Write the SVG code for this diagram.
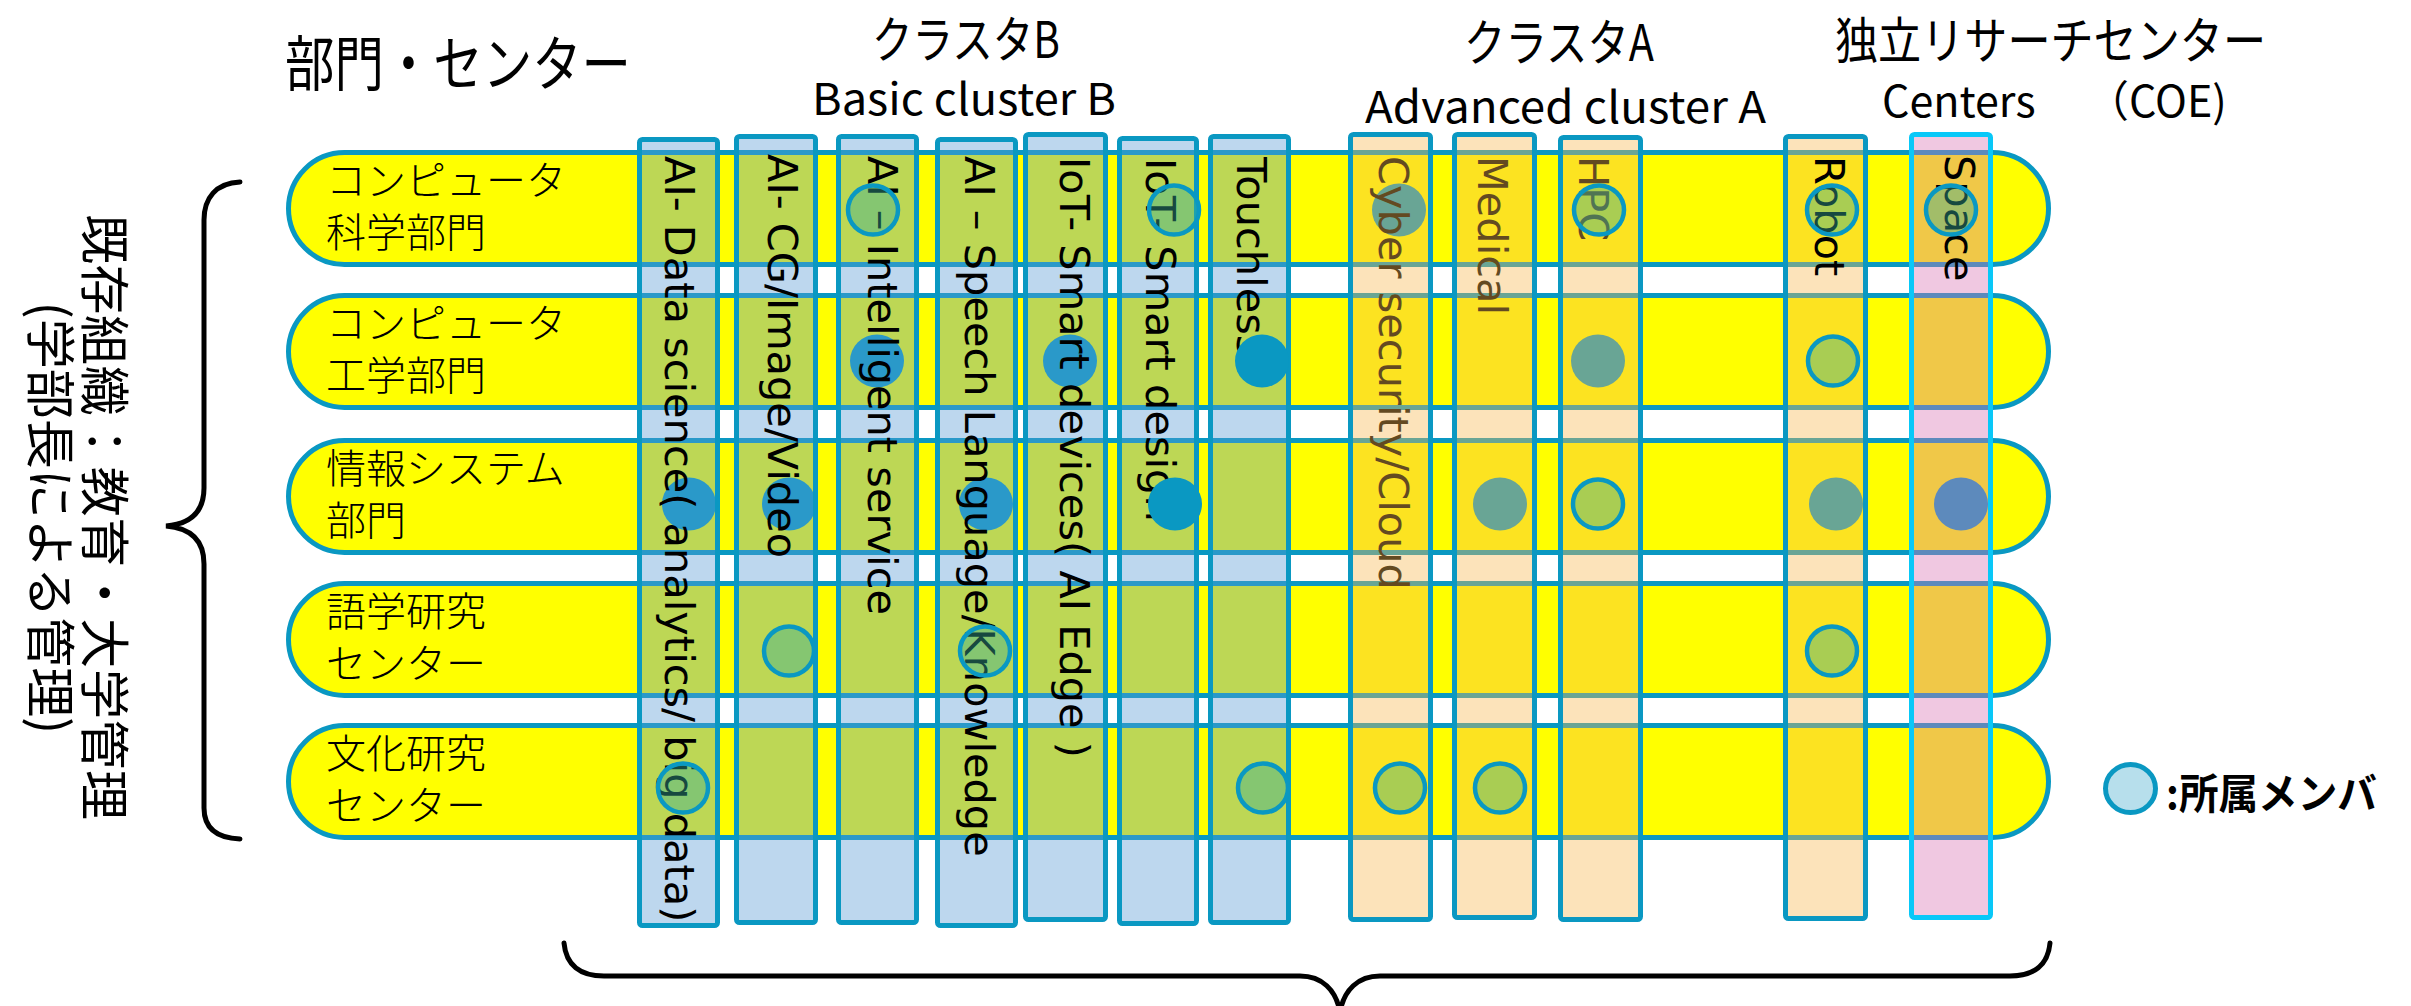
<svg xmlns="http://www.w3.org/2000/svg" width="2411" height="1006" viewBox="0 0 2411 1006">
<defs>
<style>
.row{fill:#FFFF00;stroke:#0A98C2;stroke-width:5}
.lbl{font-family:"Noto Sans CJK JP","Noto Sans CJK SC",sans-serif;font-size:40px;font-weight:300;fill:#000}
.bar{stroke:#0A98C2;stroke-width:5}
.blue{fill:#5B9BD5;fill-opacity:.4}
.peach{fill:#F7BA52;fill-opacity:.4}
.pink{fill:#D975B4;fill-opacity:.4;stroke:#08C8F8}
.bt{font-family:"DejaVu Sans",sans-serif;font-size:41.5px;fill:#000}
.dot{fill:#0A98C2}
.mem{fill:#38AE98;fill-opacity:.42;stroke:#0A98C2;stroke-width:4.5}
.head{font-family:"Noto Sans CJK JP","Noto Sans CJK SC",sans-serif;fill:#000}
.brace{fill:none;stroke:#000;stroke-width:5;stroke-linecap:round}
</style>
</defs>
<rect width="2411" height="1006" fill="#FFFFFF"/>

<g id="headings" class="head">
<text x="285" y="86" font-size="60" textLength="346" lengthAdjust="spacingAndGlyphs">部門・センター</text>
<text x="872" y="58" font-size="50" textLength="188" lengthAdjust="spacingAndGlyphs">クラスタB</text>
<text x="812" y="115" font-size="44" textLength="304" lengthAdjust="spacingAndGlyphs">Basic cluster B</text>
<text x="1464" y="61" font-size="50" textLength="190" lengthAdjust="spacingAndGlyphs">クラスタA</text>
<text x="1365" y="123" font-size="44" textLength="401" lengthAdjust="spacingAndGlyphs">Advanced cluster A</text>
<text x="1835" y="59" font-size="50" textLength="431" lengthAdjust="spacingAndGlyphs">独立リサーチセンター</text>
<text x="1882" y="117" font-size="43">Centers　<tspan x="2086">（COE)</tspan></text>
</g>

<g id="side-label" class="head" font-size="50" text-anchor="middle">
<text transform="translate(86,517) rotate(90)" textLength="606">既存組織：教育・大学管理</text>
<text transform="translate(32,518) rotate(90)">(学部長による管理)</text>
</g>

<g id="rows">
<g id="row-cs"><rect class="row" x="288.5" y="152.5" width="1760" height="112" rx="56"/><text class="lbl"><tspan x="326" y="195">コンピュータ</tspan><tspan x="326" y="247">科学部門</tspan></text></g>
<g id="row-ce"><rect class="row" x="288.5" y="295.5" width="1760" height="112" rx="56"/><text class="lbl"><tspan x="326" y="338">コンピュータ</tspan><tspan x="326" y="390">工学部門</tspan></text></g>
<g id="row-is"><rect class="row" x="288.5" y="440.5" width="1760" height="112" rx="56"/><text class="lbl"><tspan x="326" y="483">情報システム</tspan><tspan x="326" y="535">部門</tspan></text></g>
<g id="row-lang"><rect class="row" x="288.5" y="583.5" width="1760" height="112" rx="56"/><text class="lbl"><tspan x="326" y="626">語学研究</tspan><tspan x="326" y="678">センター</tspan></text></g>
<g id="row-cult"><rect class="row" x="288.5" y="725.5" width="1760" height="112" rx="56"/><text class="lbl"><tspan x="326" y="768">文化研究</tspan><tspan x="326" y="820">センター</tspan></text></g>
</g>

<g id="dots-under">
<ellipse class="dot" cx="689" cy="504" rx="27" ry="26.5"/>
<ellipse class="dot" cx="789" cy="504" rx="27" ry="26.5"/>
<ellipse class="dot" cx="986" cy="504" rx="27" ry="26.5"/>
<ellipse class="dot" cx="877" cy="361" rx="27" ry="26.5"/>
<ellipse class="dot" cx="1070" cy="361" rx="27" ry="26.5"/>
<ellipse class="dot" cx="1399" cy="210" rx="27" ry="26.5"/>
<ellipse class="dot" cx="1598" cy="361" rx="27" ry="26.5"/>
<ellipse class="dot" cx="1500" cy="504" rx="27" ry="26.5"/>
<ellipse class="dot" cx="1836" cy="504" rx="27" ry="26.5"/>
<ellipse class="dot" cx="1961" cy="504" rx="27" ry="26.5"/>
</g>

<g id="bars">
<g id="bar-ds"><rect class="bar blue" x="639.5" y="139.5" width="78" height="786" rx="3"/><text class="bt" transform="translate(665,156) rotate(90)">AI- Data science( analytics/ big data)</text></g>
<g id="bar-cg"><rect class="bar blue" x="736.5" y="136.5" width="79" height="786" rx="3"/><text class="bt" transform="translate(768,154) rotate(90)">AI- CG/Image/Video</text></g>
<g id="bar-is"><rect class="bar blue" x="838.5" y="136.5" width="78" height="786" rx="3"/><text class="bt" transform="translate(868,156) rotate(90)">AI – Intelligent service</text></g>
<g id="bar-sl"><rect class="bar blue" x="937.5" y="139.5" width="78" height="786" rx="3"/><text class="bt" transform="translate(965,156) rotate(90)">AI – Speech Language/Knowledge</text></g>
<g id="bar-sd"><rect class="bar blue" x="1025.5" y="134.5" width="80" height="785" rx="3"/><text class="bt" transform="translate(1060,157) rotate(90)">IoT- Smart devices( AI Edge )</text></g>
<g id="bar-sdes"><rect class="bar blue" x="1119.5" y="138.5" width="77" height="785" rx="3"/><text class="bt" transform="translate(1146,158) rotate(90)">IoT- Smart design</text></g>
<g id="bar-tl"><rect class="bar blue" x="1210.5" y="136.5" width="78" height="786" rx="3"/><text class="bt" transform="translate(1237,157) rotate(90)">Touchless</text></g>
<g id="bar-cyber"><text class="bt" transform="translate(1379,156) rotate(90)">Cyber security/Cloud</text><rect class="bar peach" x="1350.5" y="134.5" width="80" height="785" rx="3"/></g>
<g id="bar-med"><text class="bt" transform="translate(1478,156) rotate(90)">Medical</text><rect class="bar peach" x="1454.5" y="134.5" width="80" height="783" rx="3"/></g>
<g id="bar-hpc"><text class="bt" transform="translate(1579,156) rotate(90)">HPC</text><rect class="bar peach" x="1560.5" y="137.5" width="80" height="782" rx="3"/></g>
<g id="bar-robot"><rect class="bar peach" x="1785.5" y="136.5" width="80" height="782" rx="3"/><text class="bt" transform="translate(1815,156) rotate(90)">Robot</text></g>
<g id="bar-space"><rect class="bar pink" x="1911.5" y="134.5" width="79" height="783" rx="3"/><text class="bt" transform="translate(1945,155) rotate(90)">Space</text></g>
</g>

<g id="dots-over">
<ellipse class="dot" cx="1175" cy="504" rx="27" ry="26.5"/>
<ellipse class="dot" cx="1262" cy="361" rx="27" ry="26.5"/>
</g>

<g id="members">
<ellipse class="mem" cx="873" cy="210" rx="25" ry="24.5"/>
<ellipse class="mem" cx="1174" cy="210" rx="25" ry="24.5"/>
<ellipse class="mem" cx="1599" cy="210" rx="25" ry="24.5"/>
<ellipse class="mem" cx="1832" cy="210" rx="25" ry="24.5"/>
<ellipse class="mem" cx="1951" cy="210" rx="25" ry="24.5"/>
<ellipse class="mem" cx="1833" cy="361" rx="25" ry="24.5"/>
<ellipse class="mem" cx="1598" cy="504" rx="25" ry="24.5"/>
<ellipse class="mem" cx="789" cy="651" rx="25" ry="24.5"/>
<ellipse class="mem" cx="985" cy="651" rx="25" ry="24.5"/>
<ellipse class="mem" cx="1832" cy="651" rx="25" ry="24.5"/>
<ellipse class="mem" cx="683" cy="788" rx="25" ry="24.5"/>
<ellipse class="mem" cx="1263" cy="788" rx="25" ry="24.5"/>
<ellipse class="mem" cx="1400" cy="788" rx="25" ry="24.5"/>
<ellipse class="mem" cx="1500" cy="788" rx="25" ry="24.5"/>
</g>

<g id="connectors">
<path class="brace" d="M240,182 C216,183 204,198 204,220 L204,488 C204,512 190,524 166,526 C190,528 204,540 204,564 L204,808 C204,828 216,838 240,839"/>
<path class="brace" d="M564,943 C566,965 580,976 604,976 L1300,976 C1322,976 1336,990 1340,1012 C1344,990 1358,976 1380,976 L2010,976 C2034,976 2048,965 2050,943"/>
</g>

<g id="legend">
<ellipse cx="2130.5" cy="788.5" rx="25" ry="24" fill="#B7DFEC" stroke="#0A98C2" stroke-width="5"/>
<text class="head" x="2166" y="809" font-size="42" font-weight="700" textLength="211" lengthAdjust="spacingAndGlyphs">:所属メンバ</text>
</g>
</svg>
